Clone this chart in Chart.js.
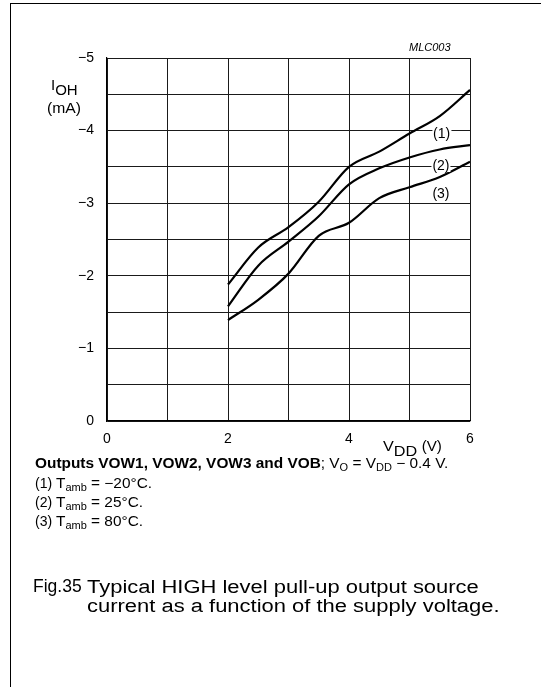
<!DOCTYPE html>
<html>
<head>
<meta charset="utf-8">
<script src="https://cdn.jsdelivr.net/npm/chart.js@4"></script>
<style>
  html, body { margin: 0; padding: 0; background: #fff; }
  body { width: 541px; height: 687px; position: relative; overflow: hidden;
         font-family: "Liberation Sans", Arial, Helvetica, sans-serif; color: #000; }
  #frame { position: absolute; left: 10px; top: 3px; right: -2px; bottom: -2px;
           border-top: 1.5px solid #000; border-left: 1.5px solid #000; }
  #chart { position: absolute; left: 0; top: 0; }
  .t { position: absolute; white-space: nowrap; line-height: 1; transform-origin: 0 0; }
  .lbl { position: absolute; white-space: nowrap; background: #fff; font-size: 14px;
         line-height: 1; padding: 0 1px; transform: translate(-50%, -50%); }
  .sub { position: relative; top: 5px; }
  .s2 { font-size: 10px; position: relative; top: 3px; }
  .note { font-size: 14px; transform: scaleX(1.1); }
  .num { font-size: 14px; }
  .cap { font-size: 18px; transform: scaleX(1.22); }
</style>
</head>
<body>
<div id="frame"></div>
<canvas id="chart" width="541" height="687"></canvas>

<div class="t" style="left:409px; top:42px; font-size:11px; font-style:italic;">MLC003</div>
<div class="t" style="left:51px; top:77px; font-size:15px;">I<span class="sub">OH</span></div>
<div class="t" style="left:47px; top:101px; font-size:14px; transform:scaleX(1.12);">(mA)</div>
<div class="t" style="left:383px; top:438px; font-size:15px; transform:scaleX(1.08);">V<span class="sub">DD</span> <span style="font-size:14px;">(V)</span></div>

<div class="t note" style="left:35px; top:456px;"><b>Outputs VOW1, VOW2, VOW3 and VOB</b>; V<span class="s2">O</span> = V<span class="s2">DD</span> &minus; 0.4 V.</div>
<div class="t num" style="left:35px; top:476px;">(1)</div>
<div class="t note" style="left:56px; top:476px;">T<span class="s2">amb</span> = &minus;20&deg;C.</div>
<div class="t num" style="left:35px; top:495px;">(2)</div>
<div class="t note" style="left:56px; top:495px;">T<span class="s2">amb</span> = 25&deg;C.</div>
<div class="t num" style="left:35px; top:514px;">(3)</div>
<div class="t note" style="left:56px; top:514px;">T<span class="s2">amb</span> = 80&deg;C.</div>

<div class="t" style="left:33px; top:578px; font-size:17.5px;">Fig.35</div>
<div class="t cap" style="left:87px; top:578px;">Typical HIGH level pull-up output source</div>
<div class="t cap" style="left:87px; top:597px;">current as a function of the supply voltage.</div>

<script>
// supply voltage V_DD (V)
const vdd = [2, 2.5, 3, 3.5, 4, 4.5, 5, 5.5, 6];
// I_OH (mA) for each ambient temperature
const iohMinus20 = [-1.88, -2.39, -2.67, -3.02, -3.5, -3.71, -3.96, -4.2, -4.56];
const ioh25 = [-1.58, -2.14, -2.47, -2.82, -3.26, -3.48, -3.63, -3.74, -3.8];
const ioh80 = [-1.39, -1.67, -2.03, -2.55, -2.73, -3.07, -3.22, -3.36, -3.57];

const curveNames = ['(1)', '(2)', '(3)'];
const curveLabelX = [5.53, 5.52, 5.52];
const curveLabelY = [-3.97, -3.53, -3.14];

const xTicks = [0, 2, 4, 6];
const yTicks = [0, -1, -2, -3, -4, -5];

function pts(ys) {
    return vdd.map((x, i) => ({ x: x, y: ys[i] }));
}

function makeSet(ys) {
    return {
        data: pts(ys),
        borderColor: '#000',
        borderWidth: 2.2,
        pointRadius: 0,
        fill: false,
        cubicInterpolationMode: 'monotone'
    };
}

// put the (1)(2)(3) tags on the chart using the scales
const labelPlugin = {
    id: 'curveLabels',
    afterRender(chart) {
        const sx = chart.scales.x;
        const sy = chart.scales.y;
        curveNames.forEach((name, i) => {
            let el = document.getElementById('cl' + i);
            if (!el) {
                el = document.createElement('div');
                el.id = 'cl' + i;
                el.className = 'lbl';
                el.textContent = name;
                document.body.appendChild(el);
            }
            el.style.left = sx.getPixelForValue(curveLabelX[i]) + 'px';
            el.style.top = sy.getPixelForValue(curveLabelY[i]) + 'px';
        });
    }
};

const font = { family: '"Liberation Sans", Arial, sans-serif', size: 14 };

new Chart(document.getElementById('chart'), {
    type: 'line',
    data: {
        datasets: [makeSet(iohMinus20), makeSet(ioh25), makeSet(ioh80)]
    },
    options: {
        responsive: false,
        animation: false,
        layout: { padding: { left: 0, right: 71, top: 58, bottom: 236 } },
        plugins: { legend: { display: false }, tooltip: { enabled: false } },
        scales: {
            x: {
                type: 'linear',
                min: 0,
                max: 6,
                afterFit: s => { s.height = 30; },
                grid: { color: '#1a1a1a', lineWidth: 1, drawTicks: false },
                border: { color: '#000', width: 1.2 },
                ticks: {
                    stepSize: 1,
                    autoSkip: false,
                    maxRotation: 0,
                    padding: 10,
                    color: '#000',
                    font: font,
                    callback: v => xTicks.includes(v) ? String(v) : ''
                }
            },
            y: {
                type: 'linear',
                min: -5,
                max: 0,
                reverse: true,
                afterFit: s => { s.width = 107; },
                grid: { color: '#1a1a1a', lineWidth: 1, drawTicks: false },
                border: { color: '#000', width: 1.2 },
                ticks: {
                    stepSize: 0.5,
                    autoSkip: false,
                    padding: 13,
                    color: '#000',
                    font: font,
                    callback: v => yTicks.includes(v) ? (v < 0 ? '\u2212' + Math.abs(v) : String(v)) : ''
                }
            }
        }
    },
    plugins: [labelPlugin]
});
</script>
</body>
</html>
